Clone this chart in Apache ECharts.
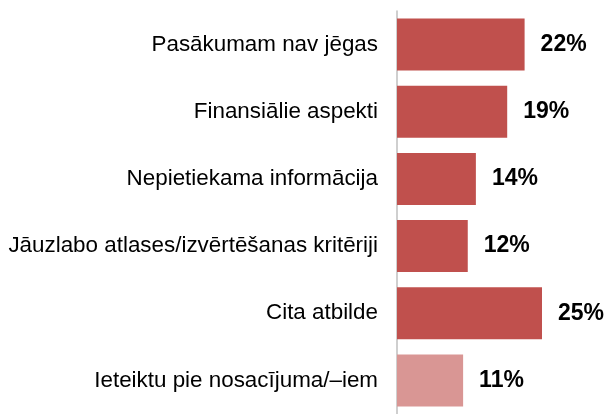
<!DOCTYPE html>
<html>
<head>
<meta charset="utf-8">
<script src="https://cdn.jsdelivr.net/npm/echarts@6/dist/echarts.min.js"></script>
<style>
  html, body { margin: 0; padding: 0; background: #fff; }
  #chart { width: 607px; height: 414px; }
</style>
</head>
<body>
<div id="chart"></div>
<script>
// data (top to bottom)
var categories = [
    'Pasākumam nav jēgas',
    'Finansiālie aspekti',
    'Nepietiekama informācija',
    'Jāuzlabo atlases/izvērtēšanas kritēriji',
    'Cita atbilde',
    'Ieteiktu pie nosacījuma/\u2013iem'
];
var values = [22, 19, 13.6, 12.2, 25, 11.4];
var barColors = ['#C0504D', '#C0504D', '#C0504D', '#C0504D', '#C0504D', '#D99694'];

var dom = document.getElementById('chart');
var myChart = echarts.init(dom);

var seriesData = [];
for (var i = 0; i < values.length; i++) {
    seriesData.push({ value: values[i], itemStyle: { color: barColors[i] } });
}

var option = {
    animation: false,
    grid: { left: 397, top: 11, width: 203, height: 411.6, containLabel: false },
    xAxis: {
        type: 'value',
        min: 0,
        max: 35,
        show: false
    },
    yAxis: {
        type: 'category',
        inverse: true,
        data: categories,
        axisLine: { show: true, lineStyle: { color: '#BFBFBF', width: 1.5 } },
        axisTick: { show: false },
        axisLabel: {
            margin: 19,
            color: '#000',
            fontFamily: 'Liberation Sans, Arial, sans-serif',
            fontSize: 22.4
        }
    },
    series: [{
        type: 'bar',
        barWidth: 52,
        data: seriesData,
        label: {
            show: true,
            position: 'right',
            distance: 16,
            color: '#000',
            fontWeight: 'bold',
            fontFamily: 'Liberation Sans, Arial, sans-serif',
            fontSize: 23,
            formatter: function (p) { return Math.round(p.value) + '%'; }
        }
    }]
};
myChart.setOption(option, true);
</script>
</body>
</html>
